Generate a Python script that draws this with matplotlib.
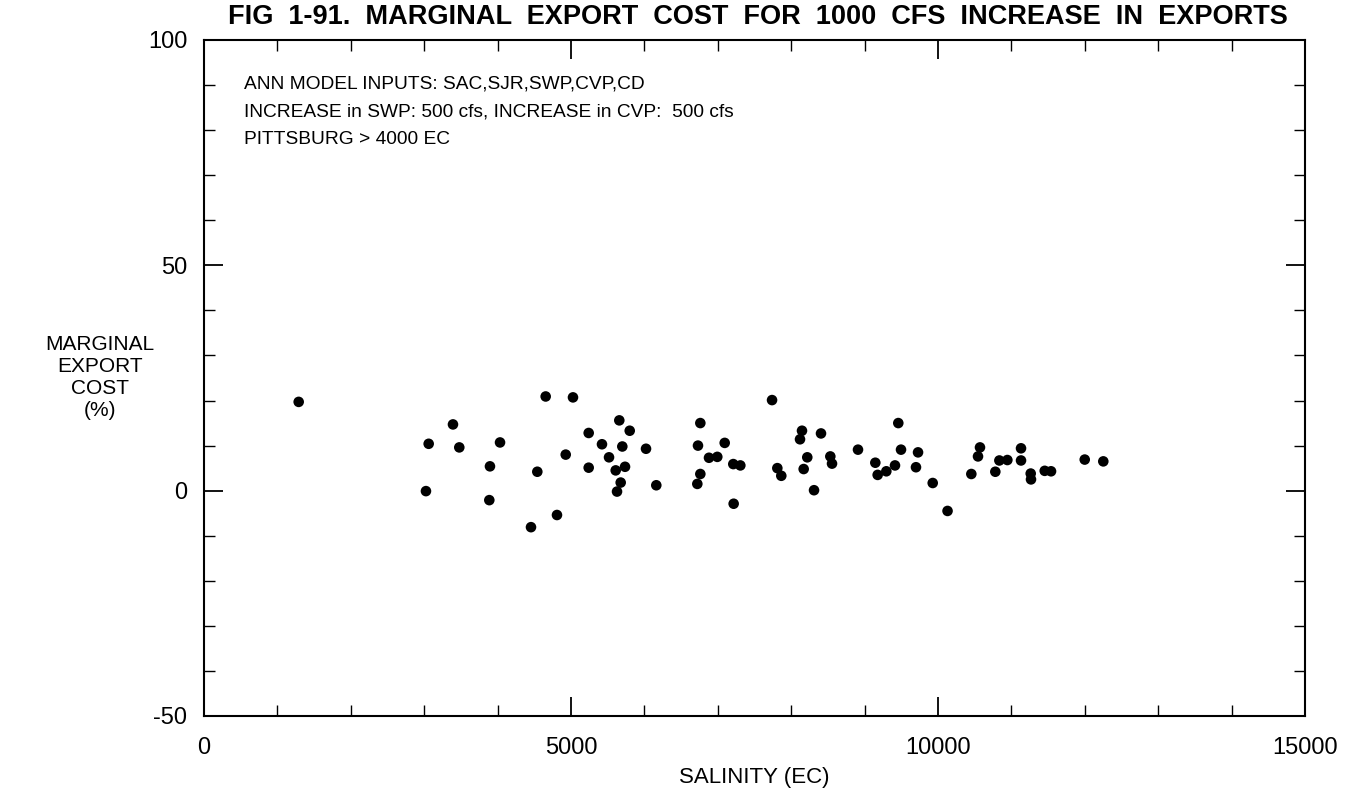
import matplotlib

matplotlib.use("Agg")
import matplotlib.pyplot as plt
from matplotlib.ticker import MultipleLocator

# marginal export cost (%) vs. salinity (EC), Pittsburg > 4000 EC cases
salinity = [
    1290, 4655, 5027, 3392, 3061, 3478, 4033, 3896, 3024, 3887,
    4455, 4809, 4541, 4928, 5241, 5241, 5422, 5518, 5658, 5800,
    5699, 5609, 5736, 5677, 5627, 6022, 6162, 7739, 6762, 6730,
    7094, 6880, 6993, 7211, 7307, 6762, 6721, 7216, 7811, 7865,
    8147, 8120, 8219, 8170, 8311, 8406, 8533, 8556, 8910, 9146,
    9178, 9296, 9414, 9459, 9496, 9700, 9728, 9928, 10130, 10454,
    10545, 10572, 10781, 10836, 10945, 11131, 11131, 11263, 11267, 11454,
    11540, 11999, 12252,
]
cost = [
    19.7, 20.9, 20.7, 14.7, 10.4, 9.6, 10.7, 5.4, -0.1, -2.1,
    -8.1, -5.4, 4.2, 8.0, 12.8, 5.1, 10.3, 7.4, 15.6, 13.3,
    9.8, 4.5, 5.3, 1.8, -0.2, 9.3, 1.2, 20.1, 15.0, 10.0,
    10.6, 7.3, 7.5, 5.9, 5.6, 3.7, 1.5, -2.9, 5.0, 3.3,
    13.3, 11.4, 7.4, 4.8, 0.1, 12.7, 7.6, 6.0, 9.1, 6.2,
    3.5, 4.3, 5.6, 15.0, 9.1, 5.2, 8.5, 1.7, -4.5, 3.7,
    7.6, 9.6, 4.2, 6.7, 6.8, 9.4, 6.7, 3.8, 2.5, 4.4,
    4.3, 6.9, 6.5,
]

notes = [
    "ANN MODEL INPUTS: SAC,SJR,SWP,CVP,CD",
    "INCREASE in SWP: 500 cfs, INCREASE in CVP:  500 cfs",
    "PITTSBURG > 4000 EC",
]

plt.rcParams["font.family"] = ["Liberation Sans", "DejaVu Sans"]
plt.rcParams["axes.unicode_minus"] = False

W, H = 1361, 796
fig = plt.figure(figsize=(W / 100, H / 100), dpi=100, facecolor="white")
ax = fig.add_axes([204 / W, 1 - 716 / H, 1101 / W, 676 / H])

ax.scatter(salinity, cost, s=58, c="black", edgecolors="none", zorder=3)

ax.set_xlim(0, 15000)
ax.set_ylim(-50, 100)
ax.xaxis.set_major_locator(MultipleLocator(5000))
ax.xaxis.set_minor_locator(MultipleLocator(1000))
ax.yaxis.set_major_locator(MultipleLocator(50))
ax.yaxis.set_minor_locator(MultipleLocator(10))
ax.tick_params(which="both", direction="in", top=True, right=True,
               labelsize=17, color="black")
ax.tick_params(which="major", length=14, width=1.3)
ax.tick_params(which="minor", length=8, width=1.0)
ax.tick_params(axis="x", pad=15)
ax.tick_params(axis="y", pad=12)
for s in ax.spines.values():
    s.set_linewidth(1.5)

ax.set_xlabel("SALINITY (EC)", fontsize=16, labelpad=6)
fig.text(100 / W, 1 - 378 / H, "MARGINAL\nEXPORT\nCOST\n(%)", fontsize=15,
         ha="center", va="center", linespacing=1.2)

fig.text(758 / W, 1 - 17 / H,
         "FIG  1-91.  MARGINAL  EXPORT  COST  FOR  1000  CFS  INCREASE  IN  EXPORTS",
         fontsize=19.5, fontweight="bold", ha="center", va="center")

for i, line in enumerate(notes):
    fig.text(244 / W, 1 - (84 + 28 * i) / H, line, fontsize=13.8,
             ha="left", va="center")

fig.savefig("out.png", dpi=100, facecolor="white")
